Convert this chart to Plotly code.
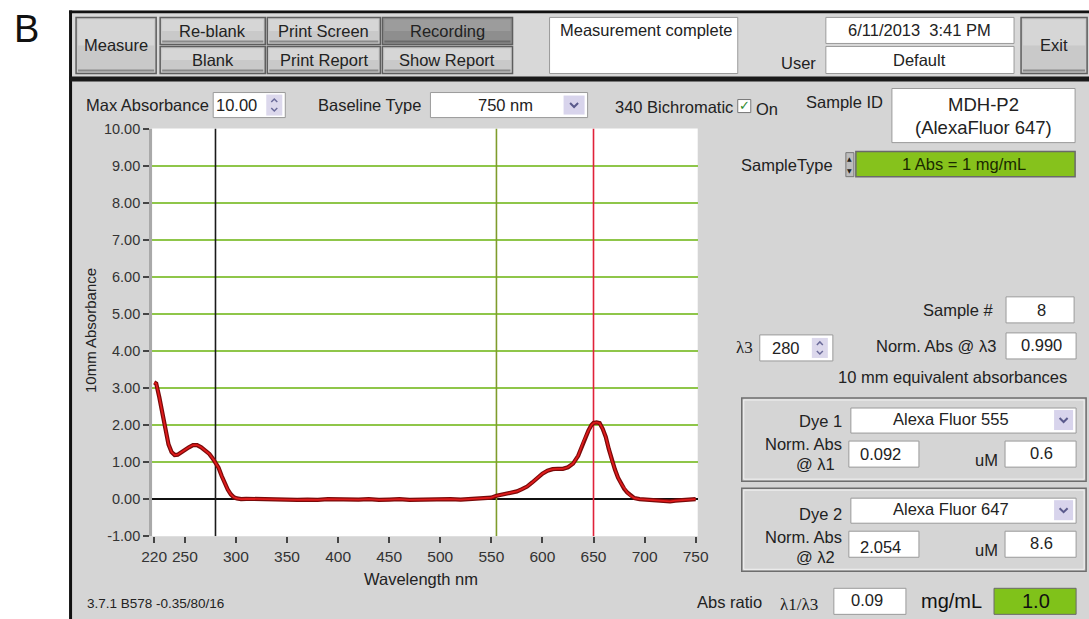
import plotly.graph_objects as go

# ---- spectrum (10 mm equivalent absorbance vs wavelength) ----
wavelength_nm = [220, 222, 225, 228, 231, 234, 237, 240, 243, 246, 250, 254, 258, 262, 266,
                 270, 274, 278, 280, 283, 286, 289, 292, 295, 298, 301, 305, 310, 320, 330,
                 340, 350, 360, 370, 380, 390, 400, 410, 420, 430, 440, 450, 460, 470, 480,
                 490, 500, 510, 520, 530, 540, 550, 555, 560, 565, 570, 575, 580, 585, 590,
                 595, 600, 605, 610, 615, 620, 625, 630, 635, 640, 645, 648, 650, 653, 656,
                 659, 662, 665, 668, 671, 674, 677, 680, 683, 686, 690, 695, 700, 705, 710,
                 715, 720, 725, 730, 735, 740, 745, 750]
absorbance = [3.15, 3.12, 2.75, 2.30, 1.85, 1.48, 1.27, 1.19, 1.20, 1.26, 1.33, 1.40, 1.46, 1.46, 1.40,
              1.32, 1.22, 1.07, 0.990, 0.85, 0.63, 0.43, 0.26, 0.13, 0.05, 0.02, 0.00, 0.01, 0.00, 0.01,
              -0.02, -0.01, -0.02, -0.01, -0.02, 0.00, -0.01, -0.02, -0.01, 0.00, -0.02, -0.01, 0.00, -0.02, -0.01,
              0.00, -0.01, 0.00, -0.01, 0.01, 0.02, 0.04, 0.092, 0.12, 0.15, 0.18, 0.21, 0.27, 0.34, 0.45,
              0.57, 0.69, 0.77, 0.81, 0.82, 0.82, 0.86, 0.96, 1.17, 1.55, 1.85, 2.00, 2.054, 2.07, 2.05,
              1.90, 1.68, 1.35, 1.05, 0.80, 0.58, 0.42, 0.28, 0.18, 0.10, 0.03, 0.00, -0.01, -0.02, -0.04,
              -0.06, -0.05, -0.06, -0.04, -0.03, -0.02, -0.01, 0.00]

# marker wavelengths: lambda3 (protein), lambda1 (dye 1), lambda2 (dye 2)
lambda3_nm = 280
lambda1_nm = 555
lambda2_nm = 650
x_ticks = [220, 250, 300, 350, 400, 450, 500, 550, 600, 650, 700, 750]
y_ticks = [-1, 0, 1, 2, 3, 4, 5, 6, 7, 8, 9, 10]

# readouts
sample_id = ["MDH-P2", "(AlexaFluor 647)"]
sample_number = 8
norm_abs_l3 = absorbance[wavelength_nm.index(lambda3_nm)]
norm_abs_l1 = absorbance[wavelength_nm.index(lambda1_nm)]
norm_abs_l2 = absorbance[wavelength_nm.index(lambda2_nm)]
dye1_um = 0.6
dye2_um = 8.6
abs_ratio = norm_abs_l1 / norm_abs_l3
mg_per_ml = norm_abs_l3

# Layout is written in screen pixels; SX/SY and BX/BY convert those to figure
# pixels for the way the page is displayed (slight zoom plus page offset).
W, H = 1101, 628
SX, BX = 0.979, 11.0
SY, BY = 0.973, 7.6
FONT = "Liberation Sans"
PANEL = "#d5d5d5"
FS = 16.5


def fx(x):
    return min(max((x - BX) / SX / W, 0), 1)


def fy(y):
    return min(max(1 - (y - BY) / SY / H, 0), 1)


shapes = []
annotations = []


def rect(x0, y0, x1, y1, fill, line="rgba(0,0,0,0)", lw=0, layer="below"):
    shapes.append(dict(type="rect", xref="paper", yref="paper",
                       x0=fx(x0), x1=fx(x1), y0=fy(y1), y1=fy(y0),
                       fillcolor=fill, line=dict(color=line, width=lw), layer=layer))


def path(pts, color, lw=1.5, layer="above"):
    d = "M " + " L ".join(f"{fx(x):.5f},{fy(y):.5f}" for x, y in pts)
    shapes.append(dict(type="path", xref="paper", yref="paper", path=d,
                       line=dict(color=color, width=lw), layer=layer))


def text(x, y, s, size=FS, anchor="center", color="#222", angle=0, family=FONT):
    annotations.append(dict(x=fx(x), y=fy(y), xref="paper", yref="paper", text=s,
                            showarrow=False, xanchor=anchor, yanchor="middle", textangle=angle,
                            font=dict(family=family, size=size, color=color)))


def button(x0, y0, x1, y1, label, dark=False):
    base = "#8e8e8e" if dark else "#c9c9c9"
    top = "#9c9c9c" if dark else "#d6d6d6"
    rect(x0, y0, x1, y1, base, "#5e5e5e", 1.5)
    rect(x0 + 2, y0 + 2, x1 - 2, (y0 + y1) / 2, top)
    rect(x0 + 2, y1 - 4, x1 - 2, y1 - 2, "#8a8a8a" if not dark else "#6a6a6a")
    text((x0 + x1) / 2, (y0 + y1) / 2, label, color="#222")


def field(x0, y0, x1, y1, fill="white"):
    rect(x0, y0, x1, y1, fill, "#9a9a9a", 1)


def spinner(x0, y0, x1, y1):
    rect(x0, y0, x1, y1, "#dcd8ec")
    xm = (x0 + x1) / 2
    ym = (y0 + y1) / 2
    path([(xm - 3, ym - 3), (xm, ym - 6), (xm + 3, ym - 3)], "#6b6b9a", 1.5)
    path([(xm - 3, ym + 3), (xm, ym + 6), (xm + 3, ym + 3)], "#6b6b9a", 1.5)


def dropdown_arrow(x0, y0, x1, y1):
    rect(x0, y0, x1, y1, "#d8d4ec")
    xm = (x0 + x1) / 2
    ym = (y0 + y1) / 2
    path([(xm - 4, ym - 2), (xm, ym + 2), (xm + 4, ym - 2)], "#5a5a8c", 2)


# ---- window frame ----
rect(69, 10, 1200, 700, PANEL)
rect(69, 10, 1200, 13, "#111")
rect(69, 10, 72, 700, "#111")
rect(72, 13, 1200, 76, "#d8d8d8")
rect(69, 76, 1200, 81, "#1a1a1a")

# ---- toolbar ----
text(26, 29, "B", size=38, color="#111")
button(76, 17, 156, 73, "Measure")
button(160, 17, 265, 44, "Re-blank")
button(160, 46, 265, 73, "Blank")
button(267, 17, 380, 44, "Print Screen")
button(267, 46, 380, 73, "Print Report")
button(382, 17, 512, 44, "Recording", dark=True)
button(382, 46, 512, 73, "Show Report")
field(549, 17, 737, 73)
text(557, 30, "Measurement complete", anchor="left")
text(798, 63, "User")
field(825, 17, 1013, 43)
text(919, 30, "6/11/2013  3:41 PM")
field(825, 46, 1013, 73)
text(919, 60, "Default")
button(1020, 17, 1086, 73, "Exit")

# ---- control row above the plot ----
text(84, 104, "Max Absorbance", anchor="left")
field(213, 92, 285, 117)
text(236, 104, "10.00")
spinner(266, 94, 282, 115)
text(316, 104, "Baseline Type", anchor="left")
field(430, 92, 587, 117)
text(505, 104, "750 nm")
dropdown_arrow(563, 95, 584, 114)
text(612, 106, "340 Bichromatic", anchor="left")
rect(737, 99, 750, 112, "white", "#777", 1)
text(743.5, 105, "✓", size=13, color="#2e8b2e", family="DejaVu Sans")
text(753, 108, "On", anchor="left")

# ---- sample info ----
text(803, 101, "Sample ID", anchor="left")
field(891, 88, 1074, 142)
text(982, 104, sample_id[0], size=18.5)
text(982, 127, sample_id[1], size=18.5)
text(738, 164, "SampleType", anchor="left")
rect(845, 152, 853, 176, "#bdbdbd", "#777", 1)
text(849, 158, "▲", size=6, color="#222", family="DejaVu Sans")
text(849, 170, "▼", size=6, color="#222", family="DejaVu Sans")
rect(855, 151, 1074, 176, "#86c21c", "#6a6a6a", 1.5)
text(963, 163, "1 Abs = 1 mg/mL", color="#1a2a00")

text(995, 309, "Sample #", anchor="right")
field(1005, 296, 1073, 322)
text(1040, 309, str(sample_number))
text(733, 347, "λ3", anchor="left", family="Liberation Serif", size=17)
field(759, 334, 832, 360)
text(785, 347, str(lambda3_nm))
spinner(811, 337, 827, 357)
text(997, 345, "Norm. Abs @ λ3", anchor="right")
field(1005, 332, 1075, 358)
text(1040, 344, f"{norm_abs_l3:.3f}")
text(952, 376, "10 mm equivalent absorbances")

# ---- dye panels ----
for gy, dye, dyename, lam, nabs, um, dy in [
    (397, "Dye 1", "Alexa Fluor 555", "λ1", norm_abs_l1, dye1_um, 0),
    (487, "Dye 2", "Alexa Fluor 647", "λ2", norm_abs_l2, dye2_um, 3),
]:
    rect(741, gy, 1085, gy + 83, PANEL, "#6e6e6e", 1.5)
    rect(743, gy + 2, 1083, gy + 81, "rgba(0,0,0,0)", "#f2f2f2", 1)
    rect(850, gy + 10, 1075, gy + 35, "white", "#9a9a9a", 1)
    text(950, gy + 21, dyename)
    dropdown_arrow(1053, gy + 12, 1072, gy + 32)
    text(843, gy + 23 + dy, dye, anchor="right")
    text(843, gy + 46 + dy, "Norm. Abs", anchor="right")
    text(815, gy + 66 + dy, "@ " + lam)
    field(848, gy + 43, 918, gy + 69)
    text(857, gy + 56 + dy, f"{nabs:.3f}", anchor="left")
    text(985, gy + 62, "uM")
    field(1004, gy + 43, 1075, gy + 69)
    text(1040, gy + 55, f"{um:.1f}")

# ---- bottom readouts ----
text(694, 601, "Abs ratio", anchor="left")
text(798, 603, "λ1/λ3", family="Liberation Serif", size=17)
field(833, 587, 905, 613)
text(866, 599, f"{abs_ratio:.2f}")
text(951, 600, "mg/mL", size=20, color="#111")
rect(993, 587, 1075, 613, "#80c21a", "#6a6a6a", 1)
text(1035, 600, f"{mg_per_ml:.1f}", size=20, color="#111")
text(85, 602, "3.7.1 B578 -0.35/80/16", anchor="left", size=13.5)

# ---- plot area ----
rect(152, 128, 697, 535, "white")
text(91, 330, "10mm Absorbance", size=15, angle=-90)
text(421, 578, "Wavelength nm", size=FS)

fig = go.Figure()

# marker wavelength lines
for lam, col in [(lambda3_nm, "#1a1a1a"), (lambda1_nm, "#7f9c2c"), (lambda2_nm, "#e0223a")]:
    fig.add_trace(go.Scatter(x=[lam, lam], y=[y_ticks[0], y_ticks[-1]], mode="lines",
                             line=dict(color=col, width=1.6), hoverinfo="skip", showlegend=False))

# spectrum: dark rim under a brighter red core
fig.add_trace(go.Scatter(x=wavelength_nm, y=absorbance, mode="lines",
                         line=dict(color="#7a0a0a", width=4.2), showlegend=False))
fig.add_trace(go.Scatter(x=wavelength_nm, y=absorbance, mode="lines",
                         line=dict(color="#e01b1b", width=1.8), showlegend=False))

fig.update_layout(
    width=W, height=H, margin=dict(l=0, r=0, t=0, b=0),
    paper_bgcolor="white", plot_bgcolor="rgba(0,0,0,0)",
    shapes=shapes, annotations=annotations, showlegend=False,
    font=dict(family=FONT, color="#222"),
    xaxis=dict(domain=[fx(152), fx(697)], range=[218, 752], tickvals=x_ticks,
               ticks="outside", ticklen=6, tickwidth=1.5, tickcolor="#444",
               tickfont=dict(size=15.5, color="#333"), showgrid=False, zeroline=False,
               showline=False, fixedrange=True),
    yaxis=dict(domain=[fy(535), fy(128)], range=[-1, 10], tickvals=y_ticks,
               ticktext=[f"{v:.2f}" for v in y_ticks],
               ticks="outside", ticklen=6, tickwidth=1.5, tickcolor="#444",
               tickfont=dict(size=14.5, color="#333"),
               showgrid=True, gridcolor="#8fc64a", gridwidth=1.5,
               zeroline=True, zerolinecolor="#111", zerolinewidth=2.2,
               showline=True, linecolor="#a9a9a9", linewidth=3, fixedrange=True),
)

fig.write_html("out.html", config={"displayModeBar": False})
